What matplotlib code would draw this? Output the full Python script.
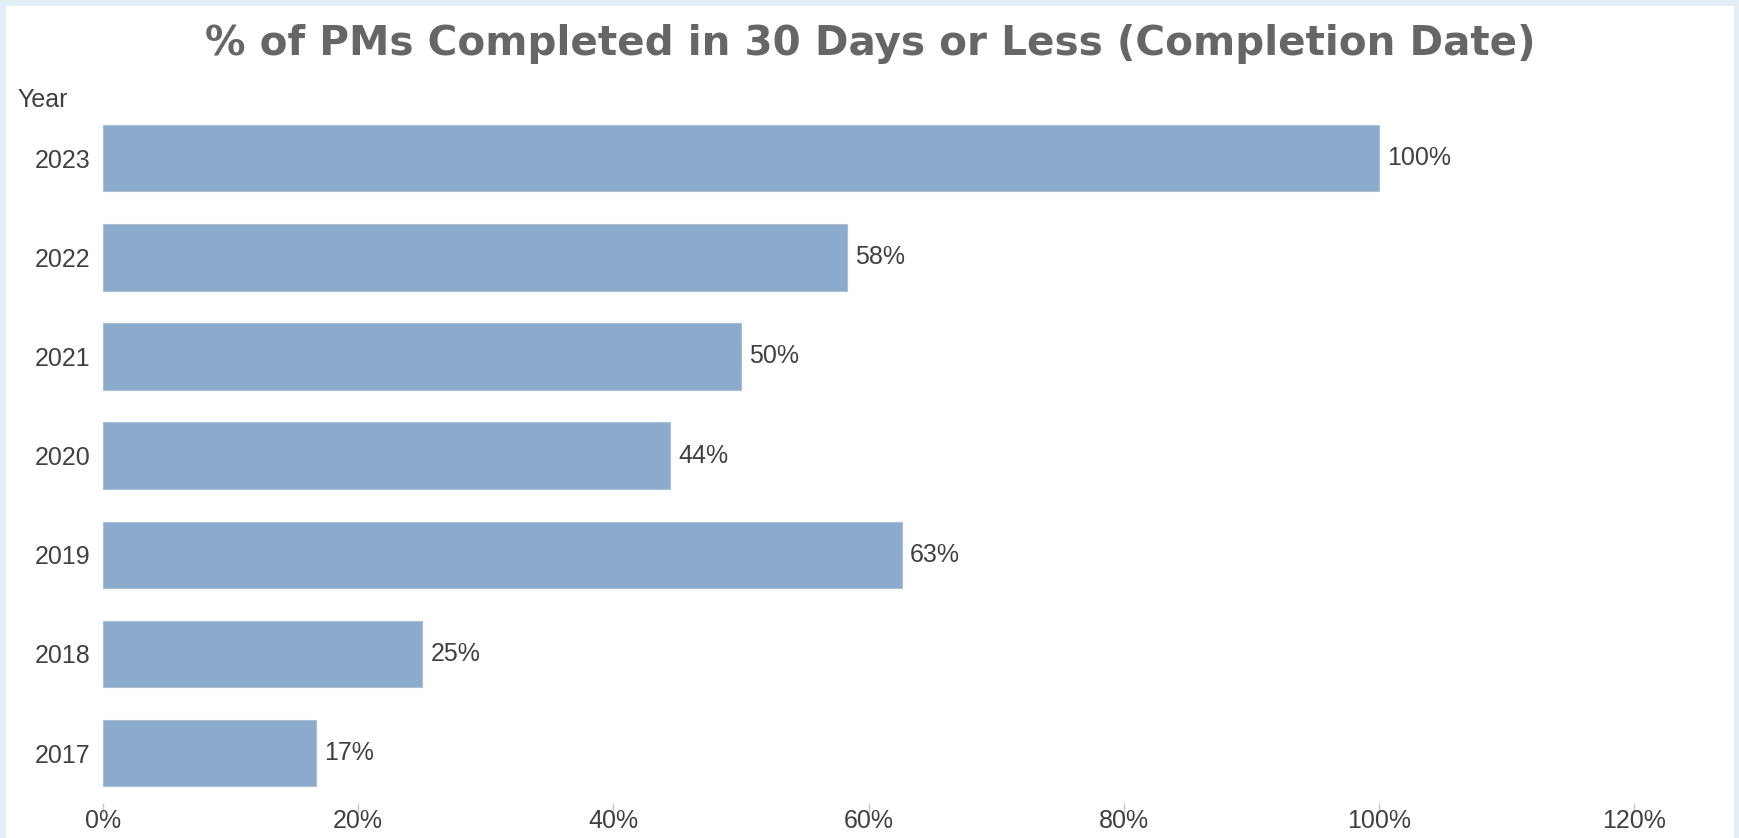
import matplotlib.pyplot as plt
from matplotlib.patches import Rectangle

years = ['2017', '2018', '2019', '2020', '2021', '2022', '2023']
pct_done = [16.7, 25.0, 62.6, 44.4, 50.0, 58.3, 100.0]
xticks = [0, 20, 40, 60, 80, 100, 120]

W, H = 1740, 838
lbl_font = ['Liberation Sans', 'DejaVu Sans']
txt_col = '#404040'
bar_col = '#8caacb'

fig = plt.figure(figsize=(W / 100, H / 100), dpi=100, facecolor='#e3eef6')
# white panel inside the light blue frame
fig.patches.append(Rectangle((6 / W, 0), (1734 - 6) / W, 1 - 6 / H,
                             transform=fig.transFigure, facecolor='white',
                             edgecolor='none', zorder=-5))

ax = fig.add_axes([103 / W, 1 - 802.6 / H, (1698 - 103) / W, (802.6 - 108.6) / H])
ax.set_zorder(2)
ax.set_facecolor('none')

pos = list(range(len(years)))
ax.barh(pos, pct_done, height=0.67, color=bar_col, edgecolor='#a9bfd8', linewidth=0.8)
for y, v in zip(pos, pct_done):
    ax.annotate(f'{v:.0f}%', (v, y), xytext=(6, 0), textcoords='offset points',
                va='center', ha='left', fontsize=18, family=lbl_font, color=txt_col)

ax.set_xlim(0, 125)
ax.set_ylim(-0.5, len(years) - 0.5)
ax.set_yticks(pos)
ax.set_yticklabels(years, family=lbl_font, fontsize=18, color=txt_col)
ax.set_xticks(xticks)
ax.set_xticklabels([f'{t}%' for t in xticks], family=lbl_font, fontsize=18, color=txt_col)
ax.tick_params(axis='y', length=0, pad=9)
ax.tick_params(axis='x', length=7.5, color='#c8c8c8', width=1, pad=-3)
for s in ax.spines.values():
    s.set_visible(False)

fig.text(0.5, 1 - 55 / H, '% of PMs Completed in 30 Days or Less (Completion Date)',
         ha='center', va='baseline', fontsize=29.2, fontweight='bold', color='#666666',
         family='DejaVu Sans', zorder=3)
fig.text(17 / W, 1 - 107 / H, 'Year', ha='left', va='baseline', fontsize=18,
         family=lbl_font, color=txt_col, zorder=3)

fig.savefig('out.png', dpi=100, facecolor=fig.get_facecolor())
